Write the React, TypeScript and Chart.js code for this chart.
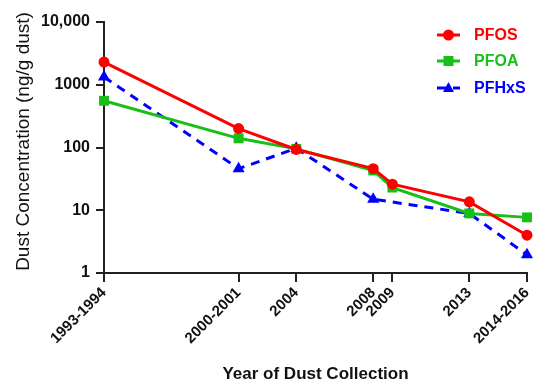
import React, { useEffect, useRef } from 'react';
import { Chart, registerables } from 'chart.js';
Chart.register(...registerables);

const years = [1994, 2001, 2004, 2008, 2009, 2013, 2016];
const yearLabels = ['1993-1994', '2000-2001', '2004', '2008', '2009', '2013', '2014-2016'];
const pfos = [2300, 200, 93, 46, 26, 13.6, 4.0];
const pfoa = [555, 140, 95, 43, 23, 8.9, 7.7];
const pfhxs: (number | null)[] = [1330, 46, 97, 15, null, 8.9, 1.95];
const yTicks = [1, 10, 100, 1000, 10000];
const yTickLabels = ['1', '10', '100', '1000', '10,000'];
const yTitle = 'Dust Concentration (ng/g dust)';
const xTitle = 'Year of Dust Collection';

const FONT = "'Liberation Sans', Arial, sans-serif";
const RED = '#ff0000';
const GREEN = '#17bf17';
const BLUE = '#0000ff';

const toPoints = (vals: (number | null)[]) => years.map((x, i) => ({ x, y: vals[i] }));

export default function App() {
  const ref = useRef<HTMLCanvasElement>(null);
  useEffect(() => {
    document.body.style.margin = '0';
    const legendPlugin = {
      id: 'customLegend',
      afterDraw(chart: any) {
        const ctx = chart.ctx as CanvasRenderingContext2D;
        const rows = [35, 61, 88];
        chart.data.datasets.forEach((ds: any, i: number) => {
          const y = rows[i];
          ctx.save();
          ctx.strokeStyle = ds.borderColor;
          ctx.lineWidth = 3;
          ctx.setLineDash(ds.borderDash || []);
          ctx.beginPath();
          ctx.moveTo(437, y);
          ctx.lineTo(460, y);
          ctx.stroke();
          ctx.setLineDash([]);
          ctx.fillStyle = ds.borderColor;
          const cx = 448.5;
          ctx.beginPath();
          if (ds.pointStyle === 'circle') {
            ctx.arc(cx, y, 5.5, 0, Math.PI * 2);
          } else if (ds.pointStyle === 'rect') {
            ctx.rect(cx - 5, y - 5, 10, 10);
          } else {
            ctx.moveTo(cx, y - 6);
            ctx.lineTo(cx + 5.5, y + 4);
            ctx.lineTo(cx - 5.5, y + 4);
            ctx.closePath();
          }
          ctx.fill();
          ctx.font = `bold 16px ${FONT}`;
          ctx.textBaseline = 'middle';
          ctx.textAlign = 'left';
          ctx.fillText(ds.label, 474, y + 1);
          ctx.restore();
        });
        // y-axis title
        const ca = chart.chartArea;
        ctx.save();
        ctx.translate(24, (ca.top + ca.bottom) / 2 - 6);
        ctx.rotate(-Math.PI / 2);
        ctx.font = `19px ${FONT}`;
        ctx.fillStyle = '#111';
        ctx.textAlign = 'center';
        ctx.textBaseline = 'middle';
        ctx.fillText(yTitle, 0, 0);
        ctx.restore();
      },
    };

    const chart = new Chart(ref.current as HTMLCanvasElement, {
      type: 'line',
      data: {
        datasets: [
          {
            label: 'PFOS',
            data: toPoints(pfos),
            borderColor: RED,
            backgroundColor: RED,
            borderWidth: 3,
            pointStyle: 'circle',
            pointRadius: 5.5,
            pointBorderWidth: 0,
            clip: false,
          },
          {
            label: 'PFOA',
            data: toPoints(pfoa),
            borderColor: GREEN,
            backgroundColor: GREEN,
            borderWidth: 3,
            pointStyle: 'rect',
            pointRadius: 7,
            pointBorderWidth: 0,
            clip: false,
          },
          {
            label: 'PFHxS',
            data: toPoints(pfhxs),
            borderColor: BLUE,
            backgroundColor: BLUE,
            borderWidth: 3,
            borderDash: [9, 7],
            pointStyle: 'triangle',
            pointRadius: 7,
            pointBorderWidth: 0,
            spanGaps: true,
            clip: false,
          },
        ] as any,
      },
      options: {
        animation: false,
        responsive: false,
        layout: { padding: { top: 22, right: 6, left: 0, bottom: 0 } },
        plugins: { legend: { display: false }, tooltip: { enabled: false } },
        scales: {
          x: {
            type: 'linear',
            min: 1994,
            max: 2016,
            afterBuildTicks: (s: any) => {
              s.ticks = years.map((v) => ({ value: v }));
            },
            afterFit: (s: any) => {
              s.height = 110;
              s.paddingLeft = 0;
              s.paddingRight = 0;
            },
            grid: { display: true, drawOnChartArea: false, drawTicks: true, tickLength: 9, color: '#222', lineWidth: 2 },
            border: { display: true, color: '#222', width: 2 },
            ticks: {
              autoSkip: false,
              maxRotation: 45,
              minRotation: 45,
              padding: 2,
              color: '#111',
              font: { family: FONT, size: 15, weight: 'bold' },
              callback: (v: any) => {
                const i = years.indexOf(Number(v));
                return i >= 0 ? yearLabels[i] : '';
              },
            },
            title: {
              display: true,
              text: xTitle,
              color: '#111',
              font: { family: FONT, size: 17, weight: 'bold', lineHeight: 1.0 },
              padding: { top: 0, bottom: 0 },
            },
          },
          y: {
            type: 'logarithmic',
            min: 1,
            max: 10000,
            afterBuildTicks: (s: any) => {
              s.ticks = yTicks.map((v) => ({ value: v }));
            },
            afterFit: (s: any) => {
              s.width = 104;
              s.paddingTop = 0;
              s.paddingBottom = 0;
            },
            grid: { display: true, drawOnChartArea: false, drawTicks: true, tickLength: 8, color: '#222', lineWidth: 2 },
            border: { display: true, color: '#222', width: 2 },
            ticks: {
              autoSkip: false,
              padding: 6,
              color: '#111',
              font: { family: FONT, size: 16, weight: 'bold' },
              callback: (v: any) => {
                const i = yTicks.indexOf(Number(v));
                return i >= 0 ? yTickLabels[i] : '';
              },
            },
            title: { display: false },
          },
        },
      } as any,
      plugins: [legendPlugin],
    });
    return () => chart.destroy();
  }, []);
  return <canvas ref={ref} width={534} height={383} style={{ display: 'block' }} />;
}
